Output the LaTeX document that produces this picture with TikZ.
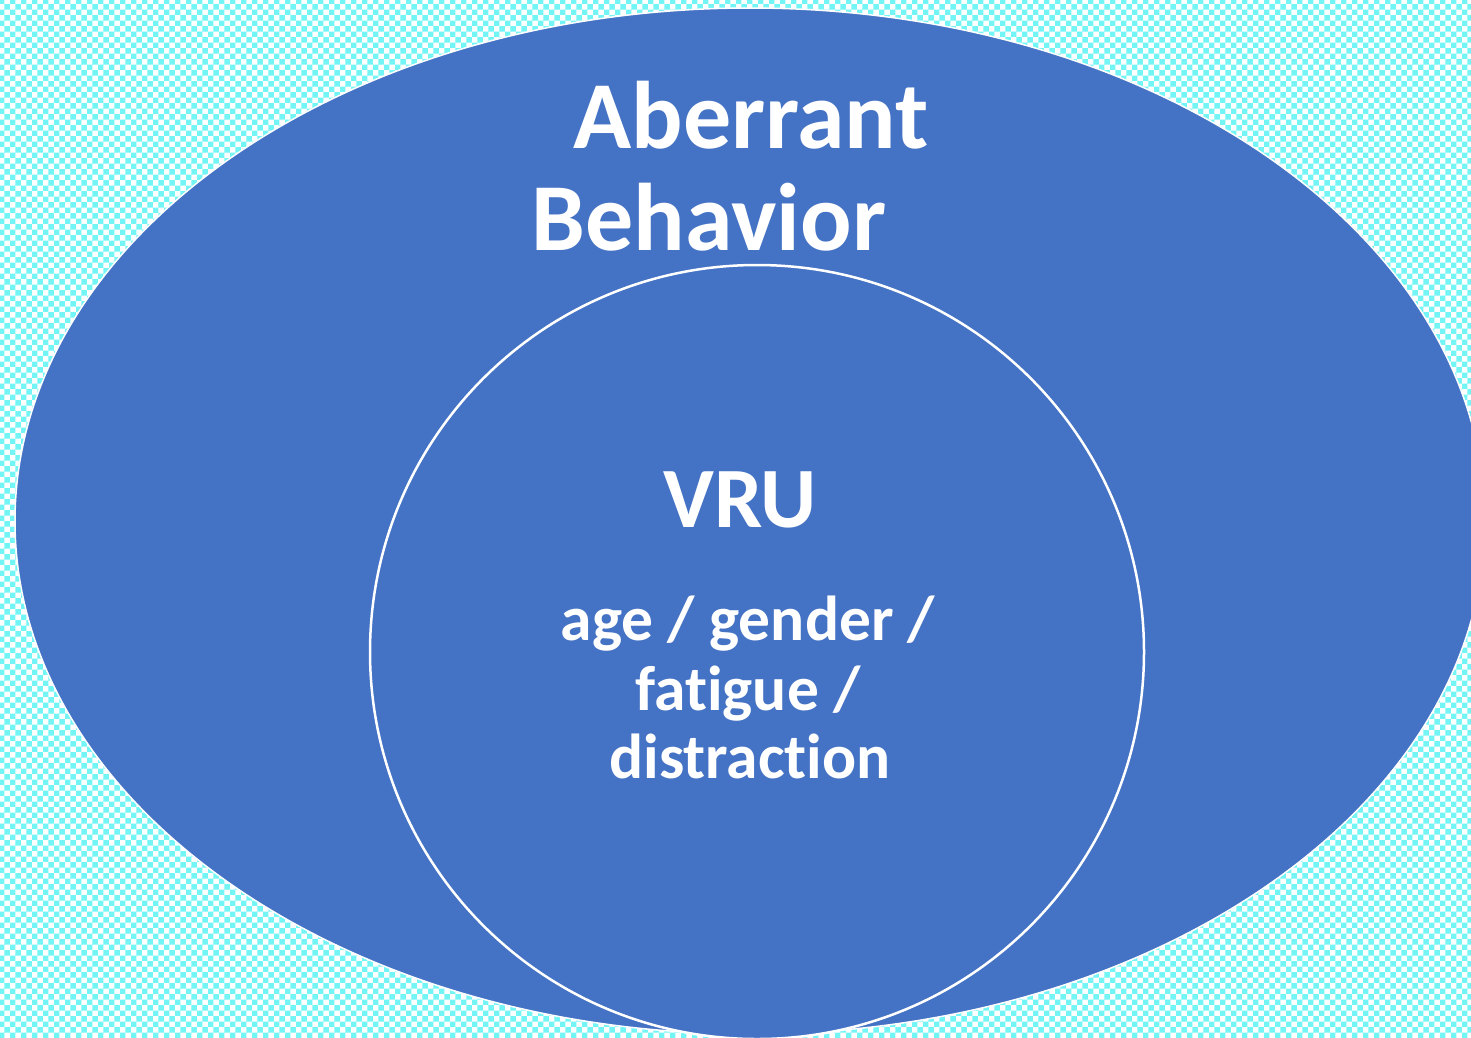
\documentclass[tikz,border=0pt]{standalone}
\usepackage{fontspec}
\setmainfont{Carlito}[Ligatures=NoCommon]
\usetikzlibrary{patterns,shapes.geometric}
\definecolor{bgcyan}{RGB}{115,245,245}
\definecolor{ovalblue}{RGB}{68,114,196}

\begin{document}
\begin{tikzpicture}[x=1pt,y=-1pt,
  region/.style={fill=ovalblue, draw=white, inner sep=0pt},
  bigtext/.style={anchor=base, text=white, font=\fontsize{96}{96}\selectfont\bfseries},
  midtext/.style={anchor=base, text=white, font=\fontsize{86}{86}\selectfont\bfseries},
  smalltext/.style={anchor=base, text=white, font=\fontsize{63.5}{63.5}\selectfont\bfseries}]
  \useasboundingbox (0,0) rectangle (1471,1037);
  \clip (0,0) rectangle (1471,1037);
  % checkered backdrop
  \fill[white] (0,0) rectangle (1471,1037);
  \fill[pattern=checkerboard, pattern color=bgcyan] (0,0) rectangle (1471,1037);
  % outer oval and inner circle
  \node[region, ellipse, line width=1.5pt, minimum width=1470pt, minimum height=1026pt] (outer) at (750,521) {};
  \node[region, circle, line width=2.5pt, minimum size=774pt] (inner) at (757,652) {};
  % labels
  \node[bigtext] (ab1) at (751,148) {Aberrant};
  \node[bigtext] (ab2) at (709,250) {Behavior};
  \node[midtext] (vru) at (740,527) {VRU};
  \node[smalltext] (f1) at (748,640) {age / gender /};
  \node[smalltext] (f2) at (748,710) {fatigue /};
  \node[smalltext] (f3) at (750,778) {distraction};
\end{tikzpicture}
\end{document}
